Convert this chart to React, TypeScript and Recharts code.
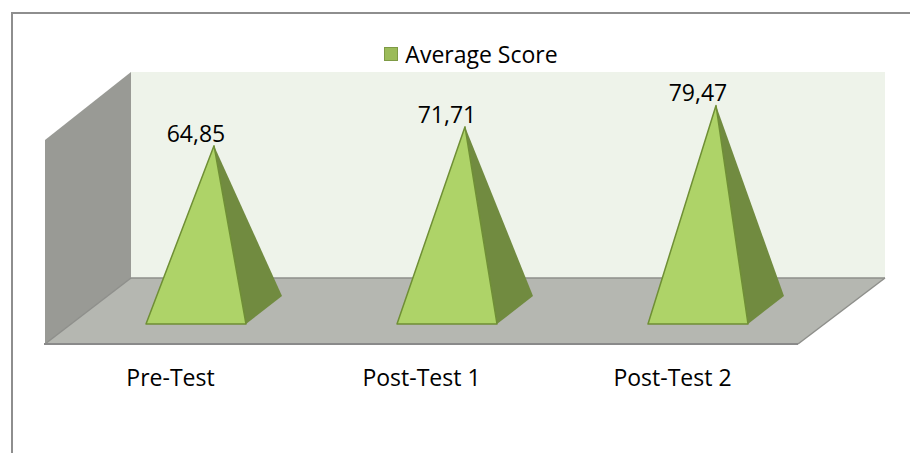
import React from "react";
import { ComposedChart, Bar, XAxis, YAxis, Legend, LabelList } from "recharts";

const categories = ["Pre-Test", "Post-Test 1", "Post-Test 2"];
const scores = [64.85, 71.71, 79.47];
const seriesName = "Average Score";
const rows = categories.map((name, i) => ({ name, score: scores[i] }));

const FONT = "'Open Sans', sans-serif";
const FONT_SIZE = 23;
const W = 910;
const H = 453;
const LEGEND_H = 24;
const PLOT = { left: 45, right: 798, top: 104, base: 324 };
const BAR = 100;
const SHIFT = 25;
const DEPTH_X = 0.36;
const DEPTH_Y = 0.28;

function Pyramid(props: any) {
  const { x, y, width, height } = props;
  const l = x + SHIFT;
  const r = l + width;
  const b = y + height;
  const dx = width * DEPTH_X;
  const dy = width * DEPTH_Y;
  const ax = (l + r) / 2 + dx / 2;
  return (
    <g>
      <polygon points={`${r},${b} ${r + dx},${b - dy} ${ax},${y}`} fill="#718B40" />
      <polygon
        points={`${l},${b} ${r},${b} ${ax},${y}`}
        fill="#AED368"
        stroke="#6F8F35"
        strokeWidth={1.5}
        strokeLinejoin="round"
      />
    </g>
  );
}

function ValueLabel(props: any) {
  const { x, y, width, value } = props;
  return (
    <text
      x={x + SHIFT + width / 2}
      y={y - 13}
      textAnchor="middle"
      dominantBaseline="central"
      fontFamily={FONT}
      fontSize={FONT_SIZE}
      fill="#000"
    >
      {String(value).replace(".", ",")}
    </text>
  );
}

function LegendBox(props: any) {
  const item = props.payload?.[0];
  return (
    <div style={{ display: "flex", justifyContent: "center", alignItems: "center", paddingLeft: 32, height: LEGEND_H }}>
      <span
        style={{
          width: 12,
          height: 12,
          background: "#9BBB59",
          border: "1.5px solid #7E9A45",
          marginRight: 7,
          display: "inline-block",
        }}
      />
      <span style={{ fontFamily: FONT, fontSize: FONT_SIZE, color: "#000", lineHeight: "24px" }}>{item?.value}</span>
    </div>
  );
}

export default function App() {
  return (
    <div style={{ position: "absolute", left: 0, top: 0, width: W, height: H, overflow: "hidden", background: "#fff" }}>
      <div
        style={{
          position: "absolute",
          left: 11,
          top: 12,
          width: W,
          height: H,
          borderTop: "2px solid #8E8E8E",
          borderLeft: "2px solid #8E8E8E",
        }}
      />
      <div style={{ position: "absolute", left: 0, top: 0 }}>
        <ComposedChart
          width={W}
          height={H}
          data={rows}
          barSize={BAR}
          margin={{ left: PLOT.left, right: W - PLOT.right, top: PLOT.top - LEGEND_H, bottom: 0 }}
          style={{ background: "transparent" }}
        >
          <polygon points="131,72 885,72 885,278 131,278" fill="#EEF3EA" />
          <polygon points="45,140 131,72 131,278 45,344" fill="#999A95" />
          <polygon points="45,344 131,278 885,278 798,344" fill="#B5B7B1" />
          <line x1={131} y1={278} x2={885} y2={278} stroke="#8E8F8B" strokeWidth={1.5} />
          <line x1={45} y1={344} x2={131} y2={278} stroke="#8E8F8B" strokeWidth={1.5} />
          <line x1={798} y1={344} x2={885} y2={278} stroke="#8E8F8B" strokeWidth={1.5} />
          <line x1={44} y1={344} x2={798} y2={344} stroke="#8A8A8A" strokeWidth={2} />
          <XAxis
            dataKey="name"
            height={H - PLOT.base}
            axisLine={false}
            tickLine={false}
            tickMargin={40}
            interval={0}
            tick={{ fontFamily: FONT, fontSize: FONT_SIZE, fill: "#000" }}
          />
          <YAxis hide domain={[0, 80]} />
          <Legend
            verticalAlign="top"
            content={<LegendBox />}
            wrapperStyle={{ position: "absolute", top: 42, left: 0, width: W }}
          />
          <Bar dataKey="score" name={seriesName} shape={<Pyramid />} fill="#9BBB59" isAnimationActive={false}>
            <LabelList dataKey="score" content={<ValueLabel />} />
          </Bar>
        </ComposedChart>
      </div>
    </div>
  );
}
